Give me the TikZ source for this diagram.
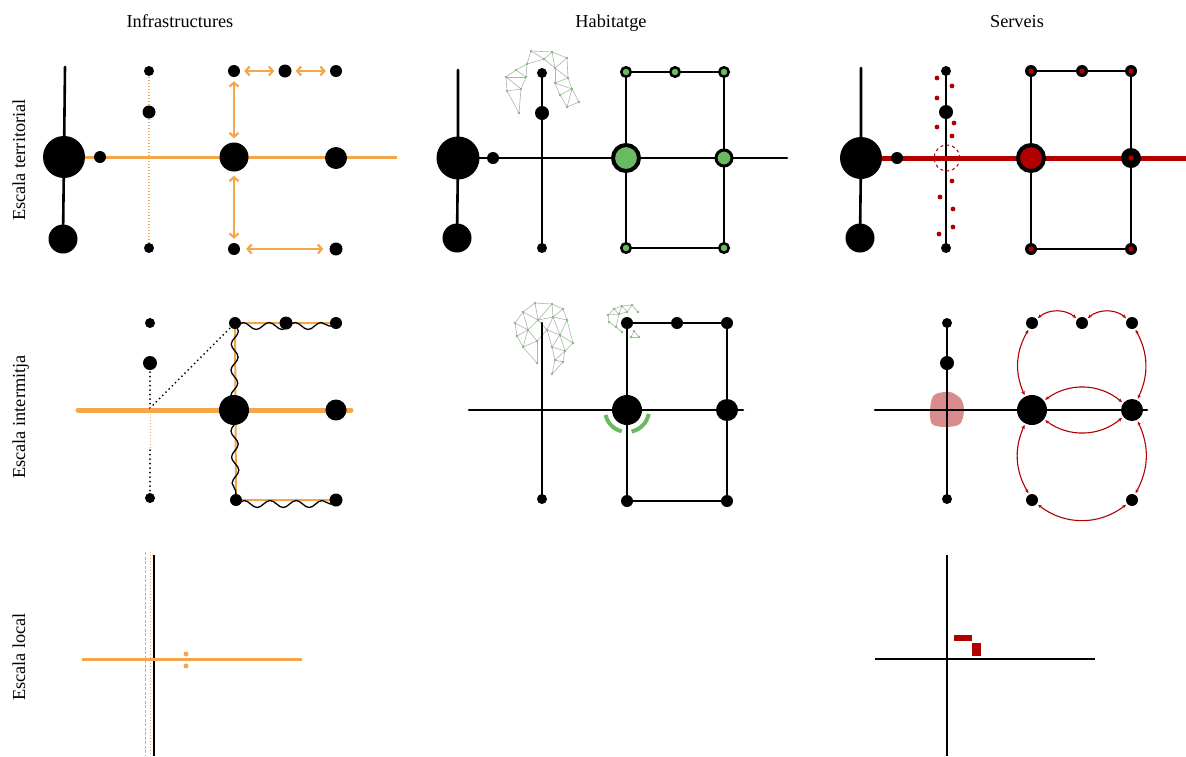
\documentclass[tikz,border=0pt]{standalone}
\usepackage{fontspec}
\setmainfont{Liberation Serif}
\usetikzlibrary{arrows.meta,decorations.pathmorphing}
\definecolor{orng}{RGB}{244,166,74}
\definecolor{grn}{RGB}{106,186,98}
\definecolor{srv}{RGB}{178,0,0}
\definecolor{pinkb}{RGB}{218,140,140}
\definecolor{meshl}{RGB}{178,178,178}
\definecolor{meshd}{RGB}{118,196,108}
\pgfdeclarelayer{bg}
\pgfdeclarelayer{paper}
\pgfsetlayers{paper,bg,main}
\begin{document}
\begin{tikzpicture}[x=1pt,y=-1pt,
  dot/.style={circle,fill=black,inner sep=0pt,minimum size=#1},
  gnode/.style={circle,draw=black,fill=grn,inner sep=0pt,minimum size=#1},
  rnode/.style={circle,fill=black,inner sep=0pt,minimum size=#1,
    path picture={\fill[srv] (path picture bounding box.center) circle[radius=2.7pt];}},
  bl/.style={line width=2.6pt,line cap=round,line join=round},
  oline/.style={orng,line width=3pt},
  othick/.style={orng,line width=5pt,line cap=round},
  odots/.style={orng,line width=1.2pt,dash pattern=on 1pt off 2pt},
  bdots/.style={line width=2pt,line cap=round,dash pattern=on 0pt off 4.5pt},
  oarr/.style={orng,line width=2.2pt,{Straight Barb[length=4pt,width=9pt]}-{Straight Barb[length=4pt,width=9pt]},shorten >=4pt,shorten <=4pt},
  rarr/.style={srv,line width=1.1pt,{Stealth[length=4pt,width=3.5pt]}-{Stealth[length=4pt,width=3.5pt]},shorten >=1.5pt,shorten <=1.5pt},
  wave/.style={decorate,decoration={snake,segment length=26pt,amplitude=3.5pt},line width=1.3pt},
  mline/.style={meshl,line width=0.6pt},
  lbl/.style={font=\fontsize{18.3}{21}\selectfont,anchor=base,inner sep=0pt}
]
\useasboundingbox (0,0) rectangle (1186,756);
\begin{pgfonlayer}{paper}
  \fill[white] (0,0) rectangle (1186,756);
\end{pgfonlayer}

% ---------- titles ----------
\node[lbl] (t1) at (180,27) {Infrastructures};
\node[lbl] (t2) at (611,27) {Habitatge};
\node[lbl] (t3) at (1017,27) {Serveis};
\node[lbl,rotate=90] (r1) at (25,160) {Escala territorial};
\node[lbl,rotate=90] (r2) at (25,417) {Escala intermitja};
\node[lbl,rotate=90] (r3) at (25,657) {Escala local};

% ---------- Panel A: Infraestructures / territorial ----------
\coordinate (A0) at (65,67);
\coordinate (A4) at (397,157);
\node[dot=42pt] (A1) at (64,157) {};
\node[dot=29pt] (A2) at (63,239) {};
\node[dot=12pt] (A3) at (100,157) {};
\node[dot=10pt] (A5) at (149,71) {};
\node[dot=13pt] (A6) at (149,112) {};
\node[dot=10pt] (A7) at (149,248) {};
\node[dot=29pt] (A8) at (234,157) {};
\node[dot=22pt] (A9) at (336,158) {};
\node[dot=12pt] (A10) at (234,71) {};
\node[dot=13pt] (A11) at (285,71) {};
\node[dot=12pt] (A12) at (336,71) {};
\node[dot=12pt] (A13) at (234,249) {};
\node[dot=13pt] (A14) at (336,249) {};
\begin{pgfonlayer}{bg}
  \draw[bl] (A0) -- (A1.center) -- (A2.center);
  \draw[oline] (A1.center) -- (A4);
  \draw[odots] (A5.center) -- (A7.center);
\end{pgfonlayer}
\draw[oarr] (A10) -- (A11);
\draw[oarr] (A11) -- (A12);
\draw[oarr] (A10) -- (A8);
\draw[oarr] (A8) -- (A13);
\draw[oarr,shorten >=6pt,shorten <=6pt] (A13) -- (A14);

% ---------- Panel B: Habitatge / territorial ----------
\coordinate (B0) at (458,70);
\coordinate (B4) at (787,158);
\node[dot=43pt] (B1) at (458,158) {};
\node[dot=29pt] (B2) at (457,238) {};
\node[dot=12pt] (B3) at (493,158) {};
\node[dot=10pt] (B5) at (542,73) {};
\node[dot=14pt] (B6) at (542,113) {};
\node[dot=10pt] (B7) at (542,248) {};
\node[gnode=9.5pt,line width=2.5pt] (B8) at (626,72) {};
\node[gnode=9.5pt,line width=2.5pt] (B9) at (675,72) {};
\node[gnode=9.5pt,line width=2.5pt] (B10) at (724,72) {};
\node[gnode=9.5pt,line width=2.5pt] (B11) at (626,248) {};
\node[gnode=9.5pt,line width=2.5pt] (B12) at (724,248) {};
\node[gnode=26pt,line width=4pt] (B13) at (626,158) {};
\node[gnode=16pt,line width=3pt] (B14) at (724,158) {};
\begin{pgfonlayer}{bg}
  % mesh
  \foreach \n/\p in {1/{507,91},2/{519,113},3/{521,89},4/{506,77},5/{516,70},6/{526,77},7/{527,64},8/{531,51},9/{544,59},10/{552,52},11/{567,58},12/{555,68},13/{568,78},14/{555,83},15/{572,89},16/{567,107},17/{579,102},18/{560,95}}
    \coordinate (ma\n) at (\p);
  \foreach \a/\b in {1/2,1/3,2/3,1/4,3/4,4/5,5/6,3/6,4/6,5/7,6/7,7/8,8/9,7/9,8/10,9/10,10/11,9/12,11/12,10/12,11/13,12/13,12/14,13/14,13/15,14/15,14/18,15/18,16/18,15/16,16/17,15/17}
    \draw[mline] (ma\a) -- (ma\b);
  \foreach \n in {1,...,18} \fill[meshd] (ma\n) circle[radius=1.3];
  \draw[bl] (B0) -- (B1.center) -- (B2.center);
  \draw[bl] (B1.center) -- (B4);
  \draw[bl] (B5.center) -- (B7.center);
  \draw[bl] (B8.center) -- (B10.center) -- (B12.center) -- (B11.center) -- cycle;
\end{pgfonlayer}

% ---------- Panel C: Serveis / territorial ----------
\coordinate (C0) at (861,68);
\coordinate (C4) at (1186,158);
\node[dot=42pt] (C1) at (861,158) {};
\node[dot=29pt] (C2) at (860,238) {};
\node[dot=12pt] (C3) at (897,158) {};
\node[dot=10pt] (C5) at (946,71) {};
\node[dot=14pt] (C6) at (946,112) {};
\node[dot=10pt] (C7) at (946,248) {};
\node[rnode=12pt] (C8) at (1031,71) {};
\node[rnode=12pt] (C9) at (1082,71) {};
\node[rnode=12pt] (C10) at (1131,71) {};
\node[rnode=12pt] (C11) at (1031,249) {};
\node[rnode=12pt] (C12) at (1131,249) {};
\node[circle,draw=black,line width=4pt,fill=srv,inner sep=0pt,minimum size=26pt] (C13) at (1031,158) {};
\node[rnode=20pt] (C14) at (1131,158) {};
\node[circle,draw=srv,dashed,line width=1pt,inner sep=0pt,minimum size=26pt] (C15) at (947,158) {};
\foreach \p in {{937,78},{952,86},{937,98},{937,127},{954,123},{952,136},{952,181},{940,197},{953,209},{953,227},{939,234}}
  \fill[srv] (\p) circle[radius=2.4];
\begin{pgfonlayer}{bg}
  \draw[bl] (C0) -- (C1.center) -- (C2.center);
  \draw[bl] (C5.center) -- (C7.center);
  \draw[bl] (C8.center) -- (C10.center) -- (C12.center) -- (C11.center) -- cycle;
  \draw[srv,line width=5pt] (C1.center) -- (C4);
\end{pgfonlayer}

% ---------- Panel D: Infraestructures / intermitja ----------
\coordinate (D4) at (78,410);
\coordinate (D5) at (351,410);
\coordinate (Dx) at (150,408);
\coordinate (Dy) at (150,450);
\node[dot=10pt] (D1) at (150,323) {};
\node[dot=14pt] (D2) at (150,363) {};
\node[dot=10pt] (D3) at (150,498) {};
\node[dot=30pt] (D6) at (234,410) {};
\node[dot=21pt] (D7) at (336,410) {};
\node[dot=12pt] (D8) at (235,323) {};
\node[dot=13pt] (D9) at (286,323) {};
\node[dot=12pt] (D10) at (336,323) {};
\node[dot=12pt] (D11) at (236,500) {};
\node[dot=13pt] (D12) at (336,500) {};
\begin{pgfonlayer}{bg}
  \draw[othick] (D4) -- (D5);
  \draw[orng,line width=2pt] (D10.center) -- (D8.center) -- (D11.center) -- (D12.center);
  \draw[bdots] (D2.center) -- (Dx);
  \draw[bdots] (Dx) -- (D8.center);
  \draw[odots,line width=1pt] (Dx) -- (Dy);
  \draw[bdots] (Dy) -- (D3.center);
  \draw[wave] ([yshift=-3pt]D8.center) -- ([yshift=-3pt]D10.center);
  \draw[wave] (D8.center) -- (D6.center);
  \draw[wave] (D6.center) -- (D11.center);
  \draw[wave] ([yshift=-4pt]D11.center) -- ([yshift=-4pt]D12.center);
\end{pgfonlayer}

% ---------- Panel E: Habitatge / intermitja ----------
\coordinate (E0) at (469,410);
\coordinate (E1) at (743,410);
\coordinate (E2) at (542,323);
\node[dot=10pt] (E3) at (542,499) {};
\node[dot=12pt] (E4) at (627,323) {};
\node[dot=12pt] (E5) at (677,323) {};
\node[dot=12pt] (E6) at (727,323) {};
\node[dot=12pt] (E7) at (627,501) {};
\node[dot=12pt] (E8) at (727,501) {};
\node[dot=30pt] (E9) at (627,410) {};
\node[dot=22pt] (E10) at (727,410) {};
\begin{pgfonlayer}{bg}
  \foreach \n/\p in {1/{535,303},2/{552,304},3/{563,309},4/{523,312},5/{515,323},6/{538,320},7/{553,317},8/{567,320},9/{517,336},10/{528,330},11/{547,330},12/{560,335},13/{573,343},14/{523,347},15/{537,341},16/{552,347},17/{565,351},18/{537,363},19/{555,360},20/{563,362},21/{552,374}}
    \coordinate (mb\n) at (\p);
  \foreach \a/\b in {1/2,2/3,1/4,4/5,1/6,4/6,2/6,2/7,6/7,3/7,3/8,7/8,5/9,5/10,4/10,6/10,9/10,6/11,7/11,11/12,7/12,8/12,8/13,12/13,9/14,10/14,10/15,14/15,11/16,12/16,12/17,13/17,16/17,14/18,15/18,16/19,17/19,17/20,19/20,19/21,20/21,11/15}
    \draw[mline] (mb\a) -- (mb\b);
  \foreach \n in {1,...,21} \fill[meshd] (mb\n) circle[radius=1.3];
  \foreach \n/\p in {1/{608,315},2/{614,309},3/{622,306},4/{632,305},5/{638,312},6/{619,314},7/{627,312},8/{609,322},9/{616,327},10/{622,332},11/{634,331},12/{631,337},13/{639,337}}
    \coordinate (mc\n) at (\p);
  \foreach \a/\b in {1/2,2/3,3/4,4/5,2/6,3/6,3/7,4/7,6/7,1/6,1/8,8/9,6/9,9/10,11/12,12/13,11/13}
    \draw[mline] (mc\a) -- (mc\b);
  \foreach \n in {1,...,13} \fill[meshd] (mc\n) circle[radius=1.3];
  \draw[bl] (E0) -- (E1);
  \draw[bl] (E2) -- (E3.center);
  \draw[bl] (E4.center) -- (E6.center) -- (E8.center) -- (E7.center) -- cycle;
\end{pgfonlayer}
\draw[grn,line width=4pt] (E9.center) ++(167:22) arc[start angle=167,end angle=104,radius=22];
\draw[grn,line width=4pt] (E9.center) ++(78:22) arc[start angle=78,end angle=10,radius=22];

% ---------- Panel F: Serveis / intermitja ----------
\coordinate (F0) at (875,410);
\coordinate (F1) at (1147,410);
\node[dot=10pt] (F2) at (947,323) {};
\node[dot=14pt] (F3) at (947,363) {};
\node[dot=10pt] (F4) at (947,499) {};
\node[dot=30pt] (F5) at (1032,410) {};
\node[dot=22pt] (F6) at (1132,410) {};
\node[dot=12pt] (F7) at (1032,323) {};
\node[dot=12pt] (F8) at (1082,323) {};
\node[dot=12pt] (F9) at (1132,323) {};
\node[dot=12pt] (F10) at (1032,500) {};
\node[dot=12pt] (F11) at (1132,500) {};
\begin{pgfonlayer}{bg}
  \fill[pinkb] plot[smooth cycle] coordinates {(934,395) (950,392) (961,399) (964,410) (960,424) (945,427) (932,424) (930,410)};
  \draw[bl] (F0) -- (F1);
  \draw[bl] (F2.center) -- (F4.center);
\end{pgfonlayer}
\draw[rarr] (F7) to[bend left=40] (F8);
\draw[rarr] (F8) to[bend left=40] (F9);
\draw[rarr] (F7) to[bend right=27] (F5);
\draw[rarr] (F9) to[bend left=27] (F6);
\draw[rarr] (F5) to[bend left=38] (F6);
\draw[rarr] (F5) to[bend right=38] (F6);
\draw[rarr] (F5) to[bend right=27] (F10);
\draw[rarr] (F6) to[bend left=27] (F11);
\draw[rarr] (F10) to[bend right=38] (F11);

% ---------- Panel G: Infraestructures / local ----------
\coordinate (G0) at (154,555);
\coordinate (G1) at (154,756);
\coordinate (G2) at (82,659);
\coordinate (G3) at (302,659);
\coordinate (G6) at (145,552);
\coordinate (G7) at (145,756);
\coordinate (G8) at (150,552);
\coordinate (G9) at (150,756);
\node[circle,fill=orng,inner sep=0pt,minimum size=5pt] (G4) at (186,654) {};
\node[circle,fill=orng,inner sep=0pt,minimum size=5pt] (G5) at (186,666) {};
\draw[orng,line width=0.9pt,dash pattern=on 3pt off 1.5pt] (G6) -- (G7);
\draw[odots,line width=1pt] (G8) -- (G9);
\draw[line width=2.4pt] (G0) -- (G1);
\draw[oline] (G2) -- (G3);

% ---------- Panel H: Serveis / local ----------
\coordinate (H0) at (947,555);
\coordinate (H1) at (947,756);
\coordinate (H2) at (875,659);
\coordinate (H3) at (1095,659);
\draw[line width=2.4pt] (H0) -- (H1);
\draw[line width=2.4pt] (H2) -- (H3);
\fill[srv] (954,635) rectangle (972,641);
\fill[srv] (972,643) rectangle (981,656);
\end{tikzpicture}
\end{document}
